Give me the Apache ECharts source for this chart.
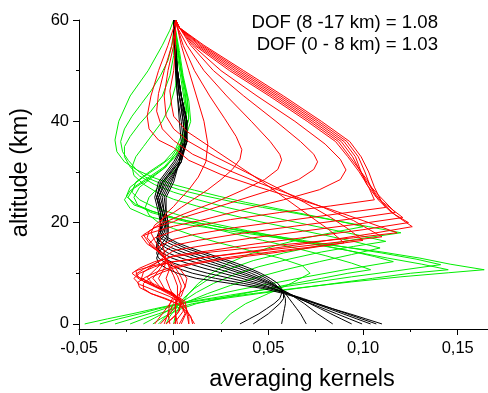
<!DOCTYPE html>
<html><head><meta charset="utf-8">
<script src="https://cdn.jsdelivr.net/npm/echarts@6/dist/echarts.min.js"></script>
<style>html,body{margin:0;padding:0;background:#fff}#c{width:488px;height:393px}</style>
</head><body><div id="c"></div>
<script>
const xTicks = [-0.05, 0, 0.05, 0.10, 0.15];
const xMinorTicks = [-0.025, 0.025, 0.075, 0.125];
const yTicks = [0, 20, 40, 60];
const yMinorTicks = [10, 30, 50];
const dofLabels = ['DOF (8 -17 km) = 1.08', 'DOF (0 - 8 km) = 1.03'];
const xTitle = 'averaging kernels';
const yTitle = 'altitude (km)';

// black kernels (0-8 km levels), values at blackAlts
const blackAlts = [0,1,2,3,4,5,6,7,8,9,10,11,12,13,14,15,16,17,18,20,22,25,28,32,36,40,45,50,55,59,60];
const blackKernels = [
 [0.110,0.1015,0.093,0.084,0.0755,0.067,0.058,0.047,0.030,0.012,0.002,-0.004,-0.008,-0.009,-0.008,-0.006,-0.004,-0.003,-0.003,-0.003,-0.004,-0.004,0.000,0.003,0.004,0.003,0.002,0.001,0.0005,0,0],
 [0.107,0.0993,0.0916,0.0839,0.0762,0.0685,0.060,0.050,0.037,0.022,0.010,0.002,-0.004,-0.008,-0.009,-0.008,-0.006,-0.004,-0.003,-0.003,-0.004,-0.005,-0.001,0.003,0.005,0.004,0.002,0.001,0.0005,0,0],
 [0.104,0.0967,0.0894,0.0821,0.0748,0.0675,0.060,0.052,0.042,0.030,0.018,0.008,0.000,-0.005,-0.008,-0.009,-0.008,-0.006,-0.004,-0.004,-0.005,-0.006,-0.002,0.004,0.006,0.005,0.003,0.0015,0.0005,0,0],
 [0.0995,0.0928,0.0861,0.0794,0.0727,0.066,0.060,0.053,0.045,0.036,0.026,0.016,0.007,-0.001,-0.006,-0.009,-0.009,-0.007,-0.005,-0.004,-0.005,-0.007,-0.003,0.004,0.006,0.005,0.003,0.0015,0.0005,0,0],
 [0.094,0.0885,0.083,0.0775,0.072,0.0665,0.061,0.055,0.048,0.040,0.031,0.022,0.013,0.004,-0.003,-0.007,-0.009,-0.008,-0.006,-0.004,-0.006,-0.008,-0.004,0.004,0.007,0.006,0.003,0.0015,0.0007,0,0],
 [0.084,0.080,0.076,0.0725,0.069,0.065,0.061,0.056,0.050,0.043,0.035,0.027,0.018,0.010,0.002,-0.004,-0.008,-0.009,-0.007,-0.005,-0.006,-0.008,-0.005,0.003,0.007,0.006,0.004,0.002,0.0007,0,0],
 [0.070,0.0685,0.067,0.065,0.063,0.061,0.059,0.056,0.051,0.045,0.038,0.030,0.022,0.014,0.006,-0.001,-0.006,-0.009,-0.008,-0.005,-0.006,-0.009,-0.006,0.003,0.007,0.007,0.004,0.002,0.0008,0,0],
 [0.057,0.0575,0.058,0.0585,0.059,0.059,0.058,0.056,0.052,0.047,0.041,0.034,0.026,0.018,0.010,0.003,-0.003,-0.007,-0.008,-0.006,-0.007,-0.009,-0.006,0.002,0.007,0.007,0.004,0.002,0.0008,0,0],
 [0.042,0.046,0.050,0.053,0.056,0.058,0.058,0.056,0.053,0.049,0.044,0.037,0.030,0.022,0.014,0.006,0.000,-0.005,-0.007,-0.007,-0.007,-0.009,-0.007,0.001,0.006,0.007,0.004,0.002,0.001,0,0],
 [0.035,0.040,0.045,0.049,0.053,0.056,0.057,0.057,0.055,0.051,0.046,0.040,0.033,0.025,0.017,0.009,0.002,-0.003,-0.006,-0.007,-0.008,-0.010,-0.008,0.000,0.006,0.007,0.004,0.002,0.001,0,0]
];

// green kernels (8-17 km levels), [value, altitude]
const greenKernels = [
 [[0.025,0],[0.030,2],[0.038,4],[0.050,6],[0.062,8],[0.072,10],[0.068,11.5],[0.056,13],[0.040,14.5],[0.024,16],[0.010,17.5],[0.000,18.8],[-0.008,20],[-0.013,21.5],[-0.015,23],[-0.013,25],[-0.008,27],[-0.003,29],[0.002,31],[0.005,34],[0.007,38],[0.006,43],[0.004,48],[0.002,53],[0.001,57],[0.000,60]],
 [[-0.011,0],[-0.007,1],[-0.002,2],[0.004,3],[0.012,4],[0.024,5],[0.037,6],[0.050,7],[0.064,8],[0.078,9],[0.092,10],[0.104,10.7],[0.094,12],[0.080,13.5],[0.064,15],[0.047,16.5],[0.030,18],[0.014,19.5],[0.000,20.8],[-0.012,22],[-0.019,23.5],[-0.021,25],[-0.018,27],[-0.011,29],[-0.004,31],[0.002,34],[0.006,38],[0.007,42],[0.005,47],[0.003,52],[0.001,56],[0.000,60]],
 [[-0.023,0],[-0.016,1],[-0.008,2],[0.000,3],[0.010,4],[0.026,5],[0.045,6],[0.065,7],[0.085,8],[0.105,9],[0.125,10],[0.145,10.7],[0.131,11.8],[0.113,13],[0.092,14.5],[0.070,16],[0.048,17.5],[0.026,19],[0.008,20.3],[0.000,21],[-0.012,22.3],[-0.021,23.5],[-0.024,25],[-0.021,27],[-0.013,29],[-0.005,31],[0.001,33.5],[0.006,37],[0.008,41],[0.007,45],[0.004,50],[0.002,55],[0.001,58],[0.000,60]],
 [[-0.047,0],[-0.035,1],[-0.022,2],[-0.010,3],[0.000,3.8],[0.018,4.8],[0.042,6],[0.068,7.2],[0.094,8.3],[0.120,9.3],[0.145,10.1],[0.164,10.7],[0.146,11.8],[0.130,13],[0.110,14.2],[0.088,15.3],[0.064,16.5],[0.040,17.8],[0.018,19],[0.000,20],[-0.014,21.3],[-0.023,22.8],[-0.026,24.5],[-0.023,26.3],[-0.015,28.2],[-0.006,30.5],[0.001,33],[0.006,36.5],[0.009,40],[0.008,44],[0.005,49],[0.003,54],[0.001,58],[0.000,60]],
 [[-0.039,0],[-0.029,1],[-0.018,2],[-0.008,3],[0.000,3.7],[0.012,4.6],[0.030,5.7],[0.050,6.9],[0.072,8.1],[0.094,9.3],[0.118,10.5],[0.141,11.7],[0.128,12.8],[0.110,14],[0.090,15.2],[0.068,16.5],[0.046,17.8],[0.025,19.1],[0.008,20.3],[0.000,21],[-0.011,22.2],[-0.020,23.6],[-0.025,25.2],[-0.023,27],[-0.016,29],[-0.008,31],[-0.001,33],[0.005,36.5],[0.008,40.5],[0.007,45],[0.004,50],[0.002,55],[0.000,60]],
 [[-0.031,0],[-0.022,1],[-0.013,2],[-0.005,3],[0.000,3.6],[0.008,4.5],[0.020,5.6],[0.035,6.8],[0.052,8],[0.070,9.3],[0.092,10.8],[0.116,12.3],[0.106,13.3],[0.092,14.5],[0.075,15.8],[0.057,17.1],[0.039,18.4],[0.021,19.8],[0.007,21],[0.000,21.8],[-0.010,23],[-0.018,24.5],[-0.022,26],[-0.020,28],[-0.013,30],[-0.005,32],[0.001,34.5],[0.005,38],[0.007,42],[0.006,46],[0.004,50],[0.002,55],[0.000,60]],
 [[-0.016,0],[-0.010,1.2],[-0.004,2.4],[0.000,3.3],[0.008,4.5],[0.018,6],[0.030,7.6],[0.044,9.2],[0.060,10.8],[0.077,12.3],[0.094,13.7],[0.109,15],[0.096,16.2],[0.080,17.5],[0.062,18.9],[0.044,20.3],[0.027,21.8],[0.012,23.3],[0.000,24.6],[-0.009,26],[-0.016,27.6],[-0.021,29.3],[-0.022,31],[-0.020,33],[-0.016,35],[-0.011,37.5],[-0.006,40],[-0.002,43],[0.001,47],[0.002,52],[0.001,56],[0.000,60]],
 [[-0.008,0],[-0.004,1.5],[0.000,3],[0.005,4.5],[0.012,6.2],[0.021,8],[0.032,9.7],[0.045,11.3],[0.061,12.8],[0.078,14.2],[0.095,15.3],[0.112,16.3],[0.098,17.5],[0.081,18.8],[0.063,20.2],[0.045,21.6],[0.028,23],[0.013,24.5],[0.000,26],[-0.010,27.5],[-0.018,29.2],[-0.023,31],[-0.026,33],[-0.026,35],[-0.023,37],[-0.018,39.5],[-0.012,42],[-0.006,45],[-0.002,49],[0.000,53],[0.000,60]],
 [[-0.004,0],[-0.002,1.5],[0.001,3],[0.005,5],[0.011,7],[0.019,9],[0.029,10.8],[0.042,12.5],[0.058,14],[0.076,15.4],[0.098,16.8],[0.120,18],[0.103,19.2],[0.084,20.5],[0.065,21.8],[0.047,23],[0.030,24.2],[0.015,25.4],[0.003,26.5],[-0.006,27.6],[-0.015,29],[-0.020,30.6],[-0.024,32.3],[-0.027,34],[-0.028,36],[-0.026,38.5],[-0.022,41],[-0.017,43.5],[-0.012,46],[-0.007,49],[-0.003,52],[-0.001,55],[0.000,58],[0.000,60]],
 [[0.000,0],[0.001,2],[0.004,4],[0.008,6],[0.013,8],[0.020,10],[0.029,12],[0.040,13.8],[0.054,15.5],[0.070,17],[0.086,18.2],[0.100,19.2],[0.086,20.4],[0.070,21.6],[0.054,22.8],[0.038,24],[0.024,25.2],[0.011,26.4],[0.000,27.5],[-0.010,28.8],[-0.019,30.3],[-0.026,32],[-0.030,34],[-0.031,36.3],[-0.029,40],[-0.023,45],[-0.0135,50],[-0.006,55],[-0.002,58],[0.000,60]]
];

// red kernels (17-60 km levels), [value, altitude]
const redKernels = [
 [[0.001,60],[0.003,58.5],[0.016,55],[0.037,50],[0.058,45],[0.078,40],[0.093,36],[0.099,33],[0.103,30],[0.106,27],[0.110,24],[0.117,21.5],[0.126,19.2],[0.104,17.8],[0.078,16.3],[0.048,14.7],[0.020,13.3],[0.000,12.3],[-0.012,11.4],[-0.020,10.5],[-0.019,9.3],[-0.010,7.8],[0.000,6],[0.005,4],[0.008,2],[0.011,0]],
 [[0.001,60],[0.003,58.5],[0.015,55],[0.0355,50],[0.0565,45],[0.0765,40],[0.0915,36],[0.0975,33],[0.101,30],[0.104,27],[0.108,24.5],[0.115,22],[0.124,20],[0.100,18.6],[0.072,17.2],[0.043,15.8],[0.018,14.4],[0.000,13.5],[-0.008,12.3],[-0.016,10.8],[-0.020,9.8],[-0.016,8.4],[-0.007,6.8],[0.002,5],[0.006,3.5],[0.008,1.5],[0.008,0]],
 [[0.001,60],[0.003,58.5],[0.014,55],[0.034,50],[0.055,45],[0.075,40],[0.090,36],[0.096,33],[0.099,30],[0.102,27.5],[0.107,25],[0.114,23],[0.121,21],[0.097,19.7],[0.068,18.3],[0.040,16.9],[0.016,15.5],[0.000,14.5],[-0.005,13.2],[-0.010,11.8],[-0.016,10.2],[-0.017,9],[-0.010,7.5],[-0.001,6],[0.006,4.5],[0.007,2.5],[0.004,0]],
 [[0.001,60],[0.003,58.5],[0.013,55],[0.0325,50],[0.0535,45],[0.0735,40],[0.0885,36],[0.0945,33],[0.098,30.5],[0.102,28],[0.108,25.5],[0.117,22],[0.093,20.7],[0.064,19.3],[0.036,17.9],[0.013,16.5],[0.000,15.5],[-0.006,14],[-0.004,12.7],[-0.009,11],[-0.014,9.2],[-0.010,7.5],[-0.002,6],[0.005,4.5],[0.005,2.5],[0.000,0]],
 [[0.001,60],[0.003,58.5],[0.012,55],[0.031,50],[0.052,45],[0.072,40],[0.087,36],[0.093,33],[0.097,31],[0.102,28.5],[0.106,26],[0.112,23],[0.088,21.8],[0.060,20.4],[0.032,19],[0.010,17.6],[0.000,16.7],[-0.009,15],[-0.006,13.5],[-0.004,12.7],[-0.007,11],[-0.011,9],[-0.007,7.2],[0.000,5.8],[0.004,4],[0.002,2],[-0.004,0]],
 [[0.001,60],[0.003,58.5],[0.011,55],[0.0295,50],[0.0505,45],[0.0705,40],[0.0855,36],[0.092,33],[0.098,30],[0.103,27],[0.106,24.5],[0.083,23.3],[0.056,22],[0.030,20.6],[0.010,19.2],[0.000,18.3],[-0.010,17],[-0.013,15.8],[-0.008,14.2],[-0.004,12.7],[-0.005,11],[-0.008,9],[-0.005,7],[0.000,5.5],[0.002,4],[-0.002,2],[-0.007,0]],
 [[0.001,60],[0.003,58.5],[0.010,55],[0.025,50],[0.044,45],[0.064,40],[0.080,35.5],[0.088,32.5],[0.091,30.4],[0.088,28.5],[0.077,26.5],[0.058,24.5],[0.036,22.5],[0.015,20.5],[0.000,19.3],[-0.012,18],[-0.017,17.3],[-0.014,15.8],[-0.007,14],[-0.004,12.7],[-0.002,11],[-0.004,9],[-0.002,7],[0.000,5.5],[-0.002,4],[-0.006,2],[-0.010,0]],
 [[0.001,60],[0.003,58.5],[0.009,55],[0.021,50],[0.037,45],[0.054,40],[0.067,36],[0.074,33.5],[0.076,32],[0.074,30.5],[0.066,28.5],[0.052,26.5],[0.035,24.5],[0.018,22.5],[0.005,21],[0.000,20.2],[-0.010,19],[-0.016,17.6],[-0.013,16],[-0.008,14.3],[-0.004,12.7],[0.001,11],[0.004,9.2],[0.006,7.5],[0.004,5.5],[0.000,4],[-0.003,2],[-0.005,0]],
 [[0.001,60],[0.002,58.5],[0.007,55],[0.016,50],[0.028,45],[0.041,40],[0.051,36],[0.056,33.5],[0.057,32.4],[0.055,30.5],[0.048,28.5],[0.037,26.5],[0.025,24.5],[0.013,22.8],[0.004,21.5],[0.000,20.8],[-0.007,19.8],[-0.013,18.3],[-0.014,17],[-0.010,15.3],[-0.004,12.7],[0.003,11],[0.007,9],[0.006,7.2],[0.002,5.5],[-0.002,4],[-0.003,2],[-0.002,0]],
 [[0.001,60],[0.002,58.5],[0.005,55],[0.011,50],[0.019,45],[0.027,40.5],[0.033,37],[0.036,34.4],[0.035,32.5],[0.031,30.5],[0.025,28.5],[0.018,26.5],[0.010,24.5],[0.004,23],[0.000,22],[-0.005,21],[-0.010,19.5],[-0.012,18],[-0.010,16.5],[-0.007,14.5],[-0.004,12.7],[-0.001,11],[0.002,9.5],[0.004,7.5],[0.003,5.5],[0.001,4],[0.001,2],[0.002,0]],
 [[0.001,60],[0.002,58.5],[0.004,55],[0.008,50],[0.012,45],[0.016,40],[0.018,35.6],[0.017,32],[0.013,29],[0.008,26.5],[0.003,24.5],[0.000,23.2],[-0.004,21.8],[-0.007,20],[-0.008,18.3],[-0.007,16.5],[-0.005,14.5],[-0.004,12.7],[-0.002,11],[0.000,9.5],[0.002,7.5],[0.002,5.5],[0.001,4],[0.001,2],[0.001,0]],
 [[0.001,60],[0.000,58.5],[-0.003,55],[-0.008,50],[-0.012,45],[-0.014,41],[-0.013,38.5],[-0.008,36.3],[0.000,34.8],[0.008,32.3],[0.025,29.5],[0.045,27],[0.064,24.8],[0.083,22.6],[0.100,20.4],[0.118,18],[0.095,17],[0.068,16],[0.040,15],[0.015,14],[0.000,13.3],[-0.010,12.3],[-0.018,11],[-0.022,10],[-0.018,8.8],[-0.009,7.3],[0.000,6],[0.004,4.5],[0.003,2.5],[-0.004,0]],
 [[0.001,60],[0.001,58.5],[-0.001,55],[-0.005,50],[-0.008,45.5],[-0.009,42],[-0.006,38.5],[0.000,36.2],[0.010,33.5],[0.026,30.8],[0.044,28],[0.062,25.5],[0.079,23],[0.095,20.4],[0.110,17.2],[0.088,16.2],[0.062,15.1],[0.036,14],[0.014,13],[0.000,12.3],[-0.010,11.3],[-0.018,10],[-0.021,9],[-0.018,7.8],[-0.010,6.6],[-0.002,5.4],[0.004,4],[0.006,2],[0.003,0]],
 [[0.001,60],[0.001,58.5],[0.000,55],[-0.003,50],[-0.005,45],[-0.004,41],[0.000,38.5],[0.008,36],[0.022,33],[0.038,30],[0.054,27],[0.069,24],[0.083,21],[0.092,18.8],[0.100,16.5],[0.080,15.5],[0.055,14.4],[0.030,13.2],[0.010,12],[0.000,11.3],[-0.008,10.4],[-0.015,9.2],[-0.019,8.2],[-0.018,7.2],[-0.012,6],[-0.004,5],[0.003,3.8],[0.007,2],[0.008,0]],
 [[0.001,60],[0.001,58.5],[0.001,55],[0.000,50],[-0.002,46],[-0.001,43],[0.000,41],[0.007,38],[0.019,35],[0.033,31.5],[0.047,28],[0.060,24.5],[0.073,21],[0.082,18.6],[0.090,16],[0.072,15],[0.050,13.9],[0.027,12.8],[0.009,11.7],[0.000,11],[-0.006,10.2],[-0.012,9.2],[-0.016,8],[-0.016,7],[-0.012,6],[-0.005,5],[0.002,4],[0.006,2.8],[0.009,1.5],[0.010,0]]
];

const FONT = '"Liberation Sans", Arial, Helvetica, sans-serif';
const fmt = v => v.toFixed(2).replace('.', ',');

function lineSeries(data, color) {
  return { type: 'line', data: data, showSymbol: false, symbol: 'none', silent: true,
    animation: false, clip: true, lineStyle: { color: color, width: 1 }, itemStyle: { color: color } };
}
const series = [];
greenKernels.forEach(c => series.push(lineSeries(c, '#00ee00')));
blackKernels.forEach(vals => series.push(lineSeries(vals.map((v, i) => [v, blackAlts[i]]), '#000000')));
redKernels.forEach(c => series.push(lineSeries(c, '#ff0000')));

const chart = echarts.init(document.getElementById('c'), null, { renderer: 'canvas' });
chart.setOption({
  animation: false,
  backgroundColor: '#ffffff',
  grid: { left: 79, right: 0, top: 20, bottom: 64, containLabel: false },
  xAxis: [
    { type: 'value', min: -0.05, max: 0.166, position: 'bottom',
      axisLine: { onZero: false, lineStyle: { color: '#000', width: 1 } },
      splitLine: { show: false },
      axisTick: { customValues: xTicks, length: 6, lineStyle: { color: '#000' } },
      axisLabel: { customValues: xTicks, formatter: fmt, color: '#000', fontSize: 16.5, fontFamily: FONT, margin: 11 } },
    { type: 'value', min: -0.05, max: 0.166, position: 'bottom',
      axisLine: { show: false, onZero: false }, splitLine: { show: false },
      axisTick: { customValues: xMinorTicks, length: 3, lineStyle: { color: '#000' } },
      axisLabel: { show: false } }
  ],
  yAxis: [
    { type: 'value', min: -1, max: 60, position: 'left',
      axisLine: { show: true, onZero: false, lineStyle: { color: '#000', width: 1 } },
      splitLine: { show: false },
      axisTick: { show: true, customValues: yTicks, length: 6, lineStyle: { color: '#000' } },
      axisLabel: { customValues: yTicks, color: '#000', fontSize: 16.5, fontFamily: FONT, margin: 10 } },
    { type: 'value', min: -1, max: 60, position: 'left',
      axisLine: { show: false, onZero: false }, splitLine: { show: false },
      axisTick: { show: true, customValues: yMinorTicks, length: 3, lineStyle: { color: '#000' } },
      axisLabel: { show: false } }
  ],
  graphic: [
    { type: 'text', x: 438, y: 13, style: { text: dofLabels[0], align: 'right', verticalAlign: 'top', fontSize: 18.6, fontFamily: FONT, fill: '#000' } },
    { type: 'text', x: 438, y: 35, style: { text: dofLabels[1], align: 'right', verticalAlign: 'top', fontSize: 18.6, fontFamily: FONT, fill: '#000' } },
    { type: 'text', x: 302, y: 368, style: { text: xTitle, align: 'center', verticalAlign: 'top', fontSize: 23.5, fontFamily: FONT, fill: '#000' } },
    { type: 'text', x: 21, y: 172.5, rotation: Math.PI / 2, style: { text: yTitle, align: 'center', verticalAlign: 'middle', fontSize: 23.5, fontFamily: FONT, fill: '#000' } }
  ],
  series: series
});
</script>
</body></html>
